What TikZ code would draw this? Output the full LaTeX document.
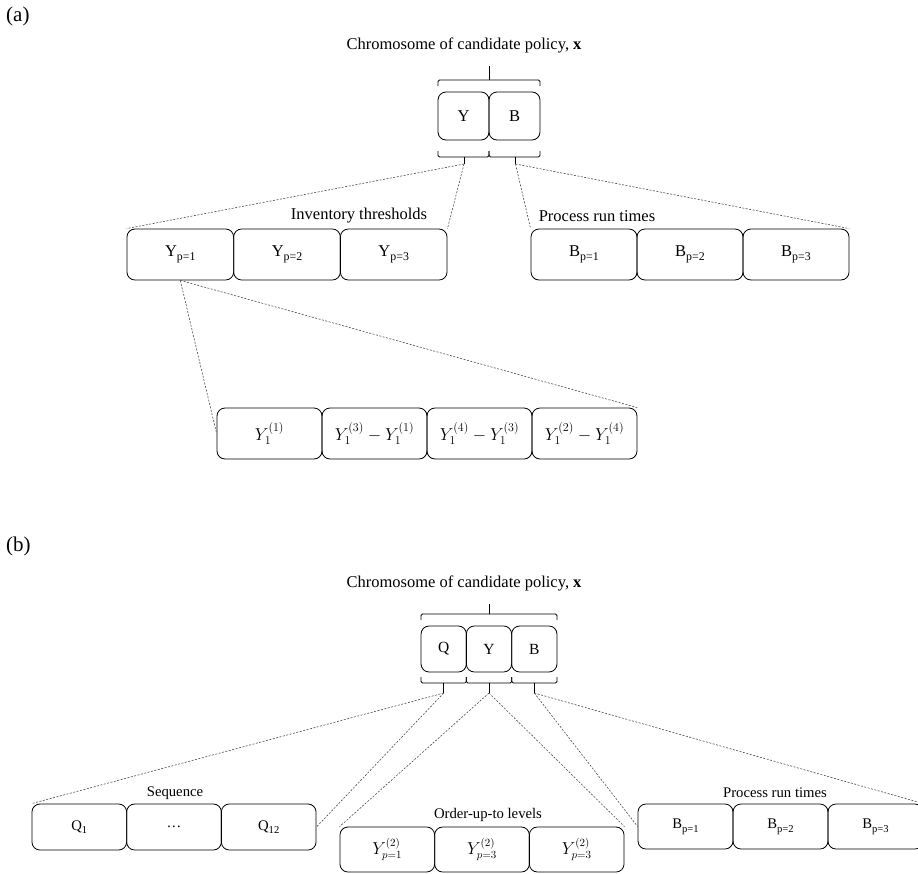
\documentclass[tikz,border=0pt]{standalone}
\usepackage{fontspec}
\setmainfont{Liberation Serif}
\usepackage{amsmath}
\newcommand{\lowsub}[1]{\raisebox{-0.55ex}{\scalebox{0.72}{#1}}}
\begin{document}
\begin{tikzpicture}[x=1pt,y=-1pt,
  cell/.style={draw, rounded corners=8pt, inner sep=0pt, line width=0.8pt},
  cellA/.style={cell, minimum width=106.7pt, minimum height=51pt, font=\fontsize{16.5}{20}\selectfont},
  cellB/.style={cell, minimum width=94.7pt, minimum height=46pt, font=\fontsize{14.7}{18}\selectfont},
  chromA/.style={cell, minimum width=51pt, minimum height=48pt, font=\fontsize{16.5}{20}\selectfont},
  chromB/.style={cell, minimum width=45.3pt, minimum height=46pt, font=\fontsize{15.5}{19}\selectfont},
  lblA/.style={inner sep=0pt, font=\fontsize{16.5}{20}\selectfont},
  lblB/.style={inner sep=0pt, font=\fontsize{14.7}{18}\selectfont},
  panel/.style={inner sep=0pt, anchor=west, font=\fontsize{21}{24}\selectfont},
  conn/.style={draw=black!70, dash pattern=on 2pt off 1.5pt, line width=0.6pt},
  bracket/.style={draw, line width=0.8pt, rounded corners=1.5pt}]
\useasboundingbox (0,0) rectangle (918,873);
\clip (0,0) rectangle (918,873);

% ---------------- (a) ----------------
\node[panel] (pa) at (6,16) {(a)};
\node[lblA] (ta) at (464,45) {Chromosome of candidate policy, \textbf{x}};

\node[chromA] (aYc) at (463.5,116) {Y};
\node[chromA] (aBc) at (514.5,116) {B};

\draw[bracket] (438,86) -- (438,80) -- (540,80) -- (540,86);
\draw[line width=0.8pt] (489,80) -- (489,66) coordinate (aTop);
\draw[bracket] (438,151) -- (438,157) -- (489,157) -- (489,151);
\draw[bracket] (489,151) -- (489,157) -- (540,157) -- (540,151);
\draw[line width=0.8pt] (464,157) -- (464,164) coordinate (aY);
\draw[line width=0.8pt] (515.5,157) -- (515.5,164) coordinate (aB);

\node[cellA] (Yp1) at (180.3,254.5) {Y\lowsub{p=1}};
\node[cellA] (Yp2) at (287,254.5) {Y\lowsub{p=2}};
\node[cellA] (Yp3) at (393.7,254.5) {Y\lowsub{p=3}};
\node[lblA] (linv) at (359,216) {Inventory thresholds};

\node[cellA, minimum width=106pt] (Bp1) at (584,254.5) {B\lowsub{p=1}};
\node[cellA, minimum width=106pt] (Bp2) at (690,254.5) {B\lowsub{p=2}};
\node[cellA, minimum width=106pt] (Bp3) at (796,254.5) {B\lowsub{p=3}};
\node[lblA] (lprA) at (597,216) {Process run times};

\node[cellA, minimum width=105pt] (Ya) at (269.5,433.5) {$Y_1^{(1)}$};
\node[cellA, minimum width=105pt] (Yb) at (374.5,433.5) {$Y_1^{(3)}-Y_1^{(1)}$};
\node[cellA, minimum width=105pt] (Yc) at (479.5,433.5) {$Y_1^{(4)}-Y_1^{(3)}$};
\node[cellA, minimum width=105pt] (Yd) at (584.5,433.5) {$Y_1^{(2)}-Y_1^{(4)}$};

\draw[conn] (aY) -- (Yp1.north west);
\draw[conn] (aY) -- (Yp3.north east);
\draw[conn] (aB) -- (Bp1.north west);
\draw[conn] (aB) -- (Bp3.north east);
\draw[conn] (Yp1.south) -- (Ya.west);
\draw[conn] (Yp1.south) -- (Yd.north east);

% ---------------- (b) ----------------
\node[panel] (pb) at (6,546) {(b)};
\node[lblA] (tb) at (464,583) {Chromosome of candidate policy, \textbf{x}};

\node[chromB] (bQc) at (443.7,649) {Q};
\node[chromB] (bYc) at (489,649) {Y};
\node[chromB] (bBc) at (534.3,649) {B};

\draw[bracket] (421,620) -- (421,614) -- (557,614) -- (557,620);
\draw[line width=0.8pt] (489,614) -- (489,604) coordinate (bTop);
\draw[bracket] (421,677) -- (421,683) -- (466.3,683) -- (466.3,677);
\draw[bracket] (466.3,677) -- (466.3,683) -- (511.7,683) -- (511.7,677);
\draw[bracket] (511.7,677) -- (511.7,683) -- (557,683) -- (557,677);
\draw[line width=0.8pt] (443.7,683) -- (443.7,693) coordinate (bQ);
\draw[line width=0.8pt] (489,683) -- (489,693) coordinate (bY);
\draw[line width=0.8pt] (534.3,683) -- (534.3,693) coordinate (bB);

\node[cellB] (Q1) at (79.3,827) {Q\lowsub{1}};
\node[cellB] (Q2) at (174,827) {\dots};
\node[cellB] (Q12) at (268.7,827) {Q\lowsub{12}};
\node[lblB] (lseq) at (175,793) {Sequence};

\node[cellB, minimum height=45pt, font=\fontsize{16}{19}\selectfont] (O1) at (387.3,849.5) {$Y_{p=1}^{(2)}$};
\node[cellB, minimum height=45pt, font=\fontsize{16}{19}\selectfont] (O2) at (482,849.5) {$Y_{p=3}^{(2)}$};
\node[cellB, minimum height=45pt, font=\fontsize{16}{19}\selectfont] (O3) at (576.7,849.5) {$Y_{p=3}^{(2)}$};
\node[lblB] (lord) at (488,815) {Order-up-to levels};

\node[cellB, minimum width=95pt, minimum height=45pt] (Bq1) at (685.5,826.5) {B\lowsub{p=1}};
\node[cellB, minimum width=95pt, minimum height=45pt] (Bq2) at (780.5,826.5) {B\lowsub{p=2}};
\node[cellB, minimum width=95pt, minimum height=45pt] (Bq3) at (875.5,826.5) {B\lowsub{p=3}};
\node[lblB] (lprB) at (775,793) {Process run times};

\draw[conn] (bQ) -- (Q1.north west);
\draw[conn] (bQ) -- (Q12.east);
\draw[conn] (bY) -- (O1.north west);
\draw[conn] (bY) -- (O3.north east);
\draw[conn] (bB) -- (Bq1.west);
\draw[conn] (bB) -- (Bq3.north east);
\end{tikzpicture}
\end{document}
